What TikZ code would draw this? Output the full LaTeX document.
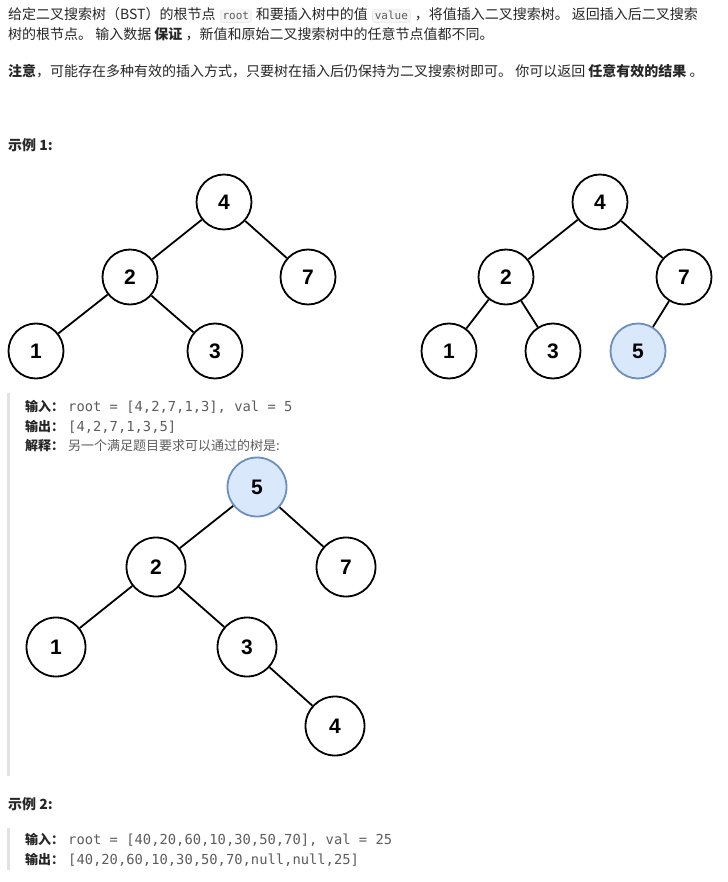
\documentclass[tikz,border=0pt]{standalone}
\usepackage{fontspec}
\setmainfont{Noto Sans CJK SC}
\setmonofont{DejaVu Sans Mono}
\newfontfamily\numfont{Liberation Sans}
\usetikzlibrary{positioning}
\definecolor{txtc}{RGB}{38,38,38}
\definecolor{codec}{RGB}{92,92,92}
\definecolor{barc}{RGB}{226,226,226}
\definecolor{boxfill}{RGB}{245,245,245}
\definecolor{boxline}{RGB}{228,228,228}
\definecolor{newfill}{RGB}{218,232,252}
\definecolor{newline}{RGB}{108,142,191}

\begin{document}
\begin{tikzpicture}[
  x=1pt, y=-1pt,
  txt/.style={anchor=base west, inner sep=0pt, text=txtc, font=\fontsize{14}{17}\selectfont},
  ibox/.style={anchor=base west, draw=boxline, fill=boxfill, rounded corners=3pt, inner sep=2.5pt, text=codec, font=\ttfamily\fontsize{11}{13}\selectfont},
  lbl/.style={anchor=base west, inner sep=0pt, text=txtc, font=\bfseries\fontsize{13}{16}\selectfont},
  code/.style={anchor=base west, inner sep=0pt, text=codec, font=\ttfamily\fontsize{13.8}{16}\selectfont},
  note/.style={anchor=base west, inner sep=0pt, text=codec, font=\fontsize{13}{16}\selectfont},
  tn/.style={circle, draw, line width=1.8pt, minimum size=55pt, inner sep=0pt, fill=white, font=\numfont\bfseries\fontsize{21}{21}\selectfont},
  tnew/.style={tn, draw=newline, fill=newfill},
  tbig/.style={minimum size=59pt},
  ln/.style={line width=1.8pt},
]
\useasboundingbox (0,0) rectangle (727,882);

% problem text
\node[txt] (l1a) at (8,20) {给定二叉搜索树（BST）的根节点};
\node[ibox, xshift=4pt] (c1) at (l1a.base east) {root};
\node[txt, xshift=4pt] (l1b) at (c1.base east) {和要插入树中的值};
\node[ibox, xshift=4pt] (c2) at (l1b.base east) {value};
\node[txt, xshift=4pt] (l1c) at (c2.base east) {，将值插入二叉搜索树。 返回插入后二叉搜索};
\node[txt] (l2) at (8,40) {树的根节点。 输入数据 \textbf{保证} ，新值和原始二叉搜索树中的任意节点值都不同。};
\node[txt] (l3) at (8,77) {\textbf{注意}，可能存在多种有效的插入方式，只要树在插入后仍保持为二叉搜索树即可。 你可以返回 \textbf{任意有效的结果} 。};

% example 1
\node[txt] (ex1) at (8,151) {\textbf{示例 1:}};

\node[tn] (a4) at (224,202) {4};
\node[tn] (a2) at (130,277) {2};
\node[tn] (a7) at (308,277) {7};
\node[tn] (a1) at (36,351) {1};
\node[tn] (a3) at (215,351) {3};
\draw[ln] (a4) -- (a2);
\draw[ln] (a4) -- (a7);
\draw[ln] (a2) -- (a1);
\draw[ln] (a2) -- (a3);

\node[tn] (b4) at (600,202) {4};
\node[tn] (b2) at (506,277) {2};
\node[tn] (b7) at (684,277) {7};
\node[tn] (b1) at (449,351) {1};
\node[tn] (b3) at (553,351) {3};
\node[tnew] (b5) at (638,351) {5};
\draw[ln] (b4) -- (b2);
\draw[ln] (b4) -- (b7);
\draw[ln] (b2) -- (b1);
\draw[ln] (b2) -- (b3);
\draw[ln] (b7) -- (b5);

\fill[barc] (7,393) rectangle (10,776);
\node[lbl] (in1) at (25,411) {输入：};
\node[code] (in1v) at (68,411) {root = [4,2,7,1,3], val = 5};
\node[lbl] (out1) at (25,431) {输出：};
\node[code] (out1v) at (68,431) {[4,2,7,1,3,5]};
\node[lbl] (why1) at (25,450) {解释：};
\node[note] (why1v) at (68,450) {另一个满足题目要求可以通过的树是:};

\node[tnew, tbig] (c5) at (257,487) {5};
\node[tn, tbig] (c2) at (156,567) {2};
\node[tn, tbig] (c7) at (346,567) {7};
\node[tn, tbig] (c1) at (56,647) {1};
\node[tn, tbig] (c3) at (247,647) {3};
\node[tn, tbig] (c4) at (335,726) {4};
\draw[ln] (c5) -- (c2);
\draw[ln] (c5) -- (c7);
\draw[ln] (c2) -- (c1);
\draw[ln] (c2) -- (c3);
\draw[ln] (c3) -- (c4);

% example 2
\node[txt] (ex2) at (8,809) {\textbf{示例 2:}};
\fill[barc] (7,828) rectangle (10,870);
\node[lbl] (in2) at (25,844) {输入：};
\node[code] (in2v) at (68,844) {root = [40,20,60,10,30,50,70], val = 25};
\node[lbl] (out2) at (25,864) {输出：};
\node[code] (out2v) at (68,864) {[40,20,60,10,30,50,70,null,null,25]};
\end{tikzpicture}
\end{document}
